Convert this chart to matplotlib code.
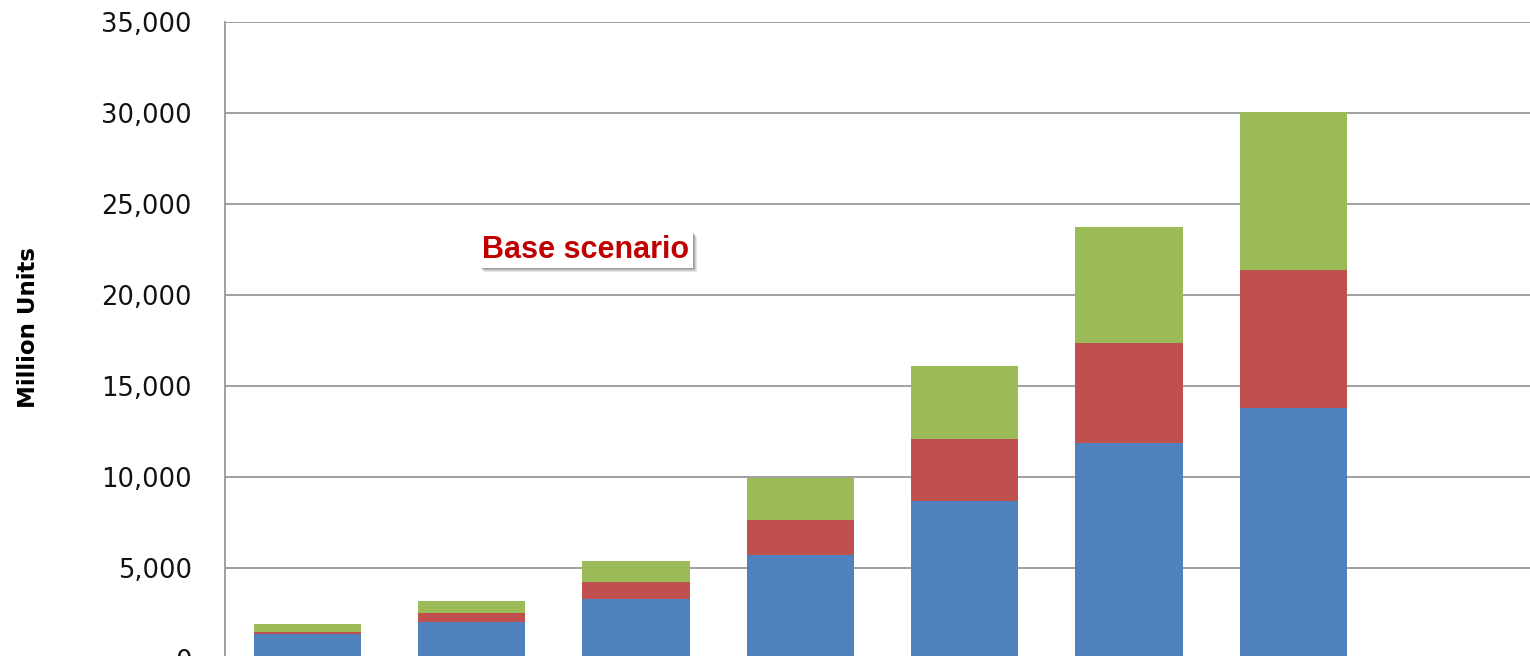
import matplotlib
matplotlib.use("Agg")
import matplotlib.pyplot as plt
import matplotlib.patheffects as pe
import numpy as np

# Stacked segment values (million units) per category
blue = [1390, 2050, 3300, 5690, 8670, 11890, 13820]
red = [110, 470, 930, 1950, 3440, 5460, 7540]
green = [440, 670, 1130, 2280, 4010, 6400, 8700]

y_ticks = [0, 5000, 10000, 15000, 20000, 25000, 30000, 35000]
y_label = "Million Units"
note = "Base scenario"

colors = ["#4F81BD", "#C0504D", "#9BBB59"]

W, H = 1530, 656
fig = plt.figure(figsize=(W / 100, H / 100), dpi=100)
fig.patch.set_facecolor("white")

# plot area: left edge 225 px, top 22 px, zero line just below the bottom edge
left, right = 225, 1540
top, zero = 22.3, 658.9
ax = fig.add_axes([left / W, (H - zero) / H, (right - left) / W, (zero - top) / H])

x = np.arange(len(blue))
b = np.array(blue)
r = np.array(red)
g = np.array(green)
width = 0.653
ax.bar(x, b, width, color=colors[0], linewidth=0, zorder=3)
ax.bar(x, r, width, bottom=b, color=colors[1], linewidth=0, zorder=3)
ax.bar(x, g, width, bottom=b + r, color=colors[2], linewidth=0, zorder=3)

ax.set_xlim(-0.5, 7.5)
ax.set_ylim(0, 35000)
ax.set_yticks(y_ticks)
ax.set_yticklabels([f"{v:,}" for v in y_ticks])
ax.set_xticks([])

ax.yaxis.grid(True, color="#999999", linewidth=1.3, zorder=0)
ax.set_axisbelow(True)
for s in ["top", "right", "bottom"]:
    ax.spines[s].set_visible(False)
ax.spines["left"].set_color("#999999")
ax.spines["left"].set_linewidth(1.3)

ax.tick_params(axis="y", length=0, pad=24, labelsize=18.5, labelcolor="#111111")
for lbl in ax.get_yticklabels():
    lbl.set_family("DejaVu Sans")

fig.text(29 / W, 1 - 327 / H, y_label, rotation=90, ha="center", va="center",
         fontsize=16.5, fontweight="bold", family="DejaVu Sans", color="black")

t = fig.text(586 / W, 1 - 250 / H, note, ha="center", va="center",
             fontsize=22, fontweight="bold", family="Liberation Sans",
             color="#C00000",
             bbox=dict(boxstyle="square,pad=0.1", facecolor="white",
                       edgecolor="none"))
# soft drop shadow built from a few offset layers
shadow = [
    pe.withSimplePatchShadow(offset=(o, -o), shadow_rgbFace="#404040", alpha=a)
    for o, a in [(3.0, 0.12), (2.3, 0.15), (1.6, 0.18), (1.0, 0.2)]
]
t.get_bbox_patch().set_path_effects(shadow + [pe.Normal()])

fig.savefig("out.png", dpi=100, facecolor="white")
